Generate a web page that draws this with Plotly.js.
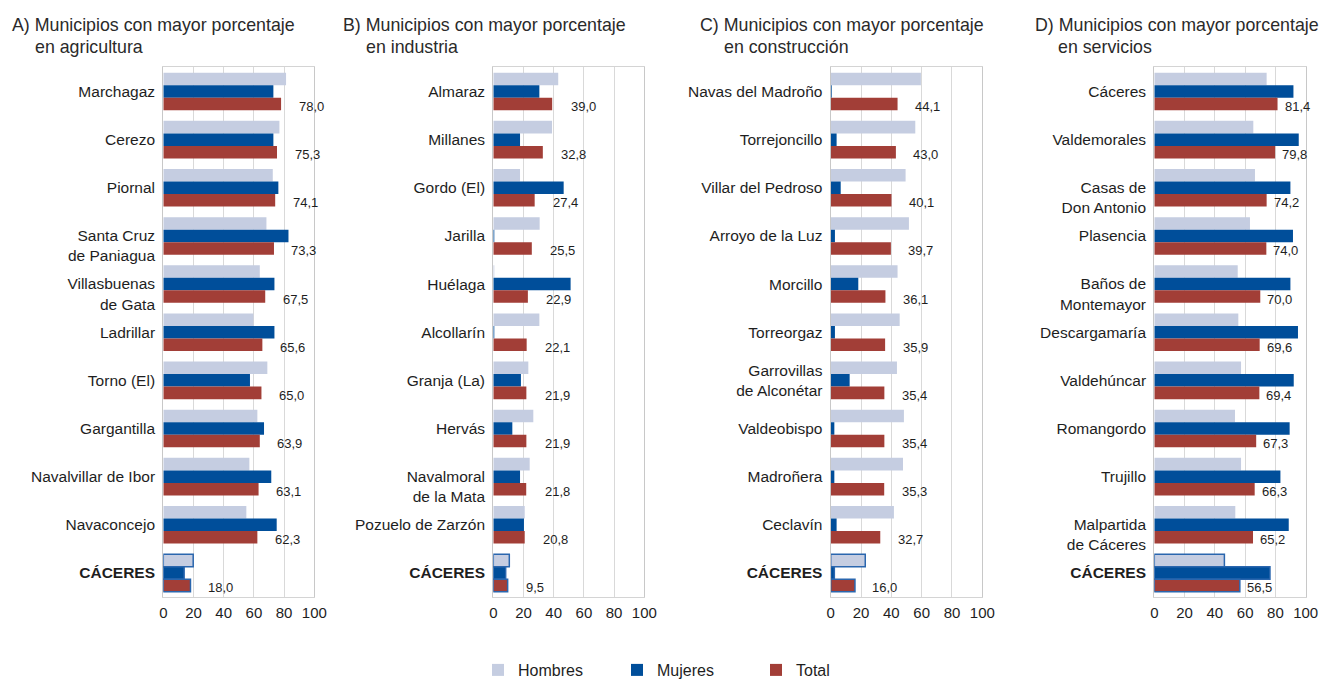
<!DOCTYPE html>
<html>
<head>
<meta charset="utf-8">
<script src="https://cdn.plot.ly/plotly-3.0.1.min.js"></script>
<style>html,body{margin:0;padding:0;background:#fff;}#chart{width:1321px;height:679px;}</style>
</head>
<body>
<div id="chart"></div>
<script>
// ---------- DATA ----------
const titlesLine1 = ["A) Municipios con mayor porcentaje", "B) Municipios con mayor porcentaje", "C) Municipios con mayor porcentaje", "D) Municipios con mayor porcentaje"];
const titlesLine2 = ["en agricultura", "en industria", "en construcción", "en servicios"];
const seriesNames = ["Hombres", "Mujeres", "Total"];

const categoriesA = ["Marchagaz", "Cerezo", "Piornal", "Santa Cruz<br>de Paniagua", "Villasbuenas<br>de Gata", "Ladrillar", "Torno (El)", "Gargantilla", "Navalvillar de Ibor", "Navaconcejo", "<b>CÁCERES</b>"];
const hombresA = [81.3, 76.9, 72.5, 68.3, 63.9, 59.7, 68.9, 62.3, 57.0, 55.0, 19.8];
const mujeresA = [72.9, 72.9, 76.2, 82.9, 73.6, 73.6, 57.4, 66.7, 71.5, 75.1, 13.8];
const totalA   = [78.0, 75.3, 74.1, 73.3, 67.5, 65.6, 65.0, 63.9, 63.1, 62.3, 18.0];

const categoriesB = ["Almaraz", "Millanes", "Gordo (El)", "Jarilla", "Huélaga", "Alcollarín", "Granja (La)", "Hervás", "Navalmoral<br>de la Mata", "Pozuelo de Zarzón", "<b>CÁCERES</b>"];
const hombresB = [43.0, 38.9, 17.7, 30.7, 0.4, 30.5, 23.2, 26.5, 24.1, 20.8, 10.6];
const mujeresB = [30.5, 17.7, 46.6, 0.5, 51.2, 0.5, 18.3, 12.6, 17.7, 20.3, 8.2];
const totalB   = [39.0, 32.8, 27.4, 25.5, 22.9, 22.1, 21.9, 21.9, 21.8, 20.8, 9.5];

const categoriesC = ["Navas del Madroño", "Torrejoncillo", "Villar del Pedroso", "Arroyo de la Luz", "Morcillo", "Torreorgaz", "Garrovillas<br>de Alconétar", "Valdeobispo", "Madroñera", "Ceclavín", "<b>CÁCERES</b>"];
const hombresC = [59.5, 55.8, 49.4, 51.6, 44.1, 45.5, 43.7, 48.3, 47.7, 41.7, 22.8];
const mujeresC = [0.6, 3.9, 6.6, 2.8, 18.2, 2.8, 12.5, 2.4, 2.4, 3.9, 2.4];
const totalC   = [44.1, 43.0, 40.1, 39.7, 36.1, 35.9, 35.4, 35.4, 35.3, 32.7, 16.0];

const categoriesD = ["Cáceres", "Valdemorales", "Casas de<br>Don Antonio", "Plasencia", "Baños de<br>Montemayor", "Descargamaría", "Valdehúncar", "Romangordo", "Trujillo", "Malpartida<br>de Cáceres", "<b>CÁCERES</b>"];
const hombresD = [74.2, 65.4, 66.5, 63.2, 55.1, 55.5, 57.3, 53.3, 57.3, 53.5, 46.3];
const mujeresD = [91.9, 95.4, 89.9, 91.6, 89.9, 94.9, 92.1, 89.4, 83.3, 88.8, 76.4];
const totalD   = [81.4, 79.8, 74.2, 74.0, 70.0, 69.6, 69.4, 67.3, 66.3, 65.2, 56.5];

// two-line labels that the reference centres on the bar group (others hang from the first line)
const centredTwoLineLabels = ["Garrovillas<br>de Alconétar"];

const xTickVals = [0, 20, 40, 60, 80, 100];

// ---------- STYLE ----------
const W = 1321, H = 679;
const FONT = "'Liberation Sans', Arial, Helvetica, sans-serif";
const colors = ["#c5cde1", "#004e9a", "#a23e37"];
const highlightLine = "#2a66ae";
const xDomainsPx = [[163.3, 314.3], [493.3, 644.3], [830.7, 982.3], [1154.3, 1305.7]];
const yDomainPx = [67, 597];
const titleXPx = [10, 341, 698, 1033];
const title2OffsetPx = [22.5, 23, 24, 23];
const labelShift = [15.5, 16.5, 15.5, 5];

const panels = [
  {cats: categoriesA, h: hombresA, m: mujeresA, t: totalA},
  {cats: categoriesB, h: hombresB, m: mujeresB, t: totalB},
  {cats: categoriesC, h: hombresC, m: mujeresC, t: totalC},
  {cats: categoriesD, h: hombresD, m: mujeresD, t: totalD}
];

const fmt = v => v.toFixed(1).replace('.', ',');
const tickLabel = c => (c.indexOf("<br>") >= 0 && centredTwoLineLabels.indexOf(c) < 0) ? "\u00a0<br>" + c : c;
const data = [];
const annotations = [];
const layout = {
  width: W, height: H,
  margin: {l: 0, r: 0, t: 0, b: 0, autoexpand: false},
  paper_bgcolor: "#ffffff", plot_bgcolor: "#ffffff",
  font: {family: FONT, color: "#1e1e1e", size: 15},
  barmode: "group",
  bargap: 0.22,
  bargroupgap: 0,
  showlegend: true,
  legend: {
    orientation: "h",
    x: 478 / W, xanchor: "left",
    y: 1 - 670 / H, yanchor: "middle",
    font: {family: FONT, size: 16, color: "#1e1e1e"},
    entrywidth: 94, entrywidthmode: "pixels",
    traceorder: "normal",
    itemclick: false, itemdoubleclick: false
  },
  annotations: annotations
};

panels.forEach((p, k) => {
  const n = k === 0 ? "" : String(k + 1);
  const xa = "x" + n, ya = "y" + n;
  const isHi = p.cats.map(c => c.indexOf("CÁCERES") >= 0);
  const series = [p.h, p.m, p.t];
  series.forEach((vals, s) => {
    data.push({
      type: "bar", orientation: "h",
      x: vals, y: p.cats,
      xaxis: xa, yaxis: ya,
      name: seriesNames[s],
      legendgroup: seriesNames[s],
      showlegend: k === 0,
      marker: {
        color: colors[s],
        line: {
          color: isHi.map(h => h ? highlightLine : colors[s]),
          width: isHi.map(h => h ? 1.5 : 0)
        }
      },
      hoverinfo: "x+y+name"
    });
  });
  layout["xaxis" + n] = {
    domain: [xDomainsPx[k][0] / W, xDomainsPx[k][1] / W],
    anchor: ya,
    range: [0, 100],
    tickvals: xTickVals,
    ticktext: xTickVals.map(String),
    showgrid: true, gridcolor: "#d9d9d9", gridwidth: 1.3,
    zeroline: false,
    showline: true, linecolor: "#d4d4d4", linewidth: 1.3, mirror: true,
    ticks: "outside", ticklen: 2, tickcolor: "rgba(0,0,0,0)",
    tickfont: {family: FONT, size: 15, color: "#1e1e1e"},
    fixedrange: true
  };
  layout["yaxis" + n] = {
    domain: [1 - yDomainPx[1] / H, 1 - yDomainPx[0] / H],
    anchor: xa,
    type: "category",
    categoryorder: "array", categoryarray: p.cats,
    tickmode: "array", tickvals: p.cats, ticktext: p.cats.map(tickLabel),
    autorange: "reversed",
    showgrid: false, zeroline: false,
    showline: true, linecolor: "#c8c8c8", linewidth: 1.3, mirror: true,
    ticks: "outside", ticklen: 4, tickcolor: "rgba(0,0,0,0)",
    tickfont: {family: FONT, size: 15.5, color: "#1e1e1e"},
    fixedrange: true
  };
  // value labels for Total
  p.t.forEach((v, i) => {
    annotations.push({
      xref: xa, yref: ya, x: v, y: i,
      text: fmt(v), showarrow: false,
      xanchor: "left", yanchor: "middle",
      xshift: labelShift[k], yshift: -15,
      font: {family: FONT, size: 13, color: "#1e1e1e"}
    });
  });
  // panel titles
  annotations.push({
    xref: "paper", yref: "paper", x: titleXPx[k] / W, y: 1 - 25 / H,
    text: titlesLine1[k], showarrow: false, xanchor: "left", yanchor: "middle",
    font: {family: FONT, size: 17.8, color: "#2a2a2a"}
  });
  annotations.push({
    xref: "paper", yref: "paper", x: (titleXPx[k] + title2OffsetPx[k]) / W, y: 1 - 47 / H,
    text: titlesLine2[k], showarrow: false, xanchor: "left", yanchor: "middle",
    font: {family: FONT, size: 17.8, color: "#2a2a2a"}
  });
});

Plotly.newPlot("chart", data, layout, {displayModeBar: false, staticPlot: false});
</script>
</body>
</html>
